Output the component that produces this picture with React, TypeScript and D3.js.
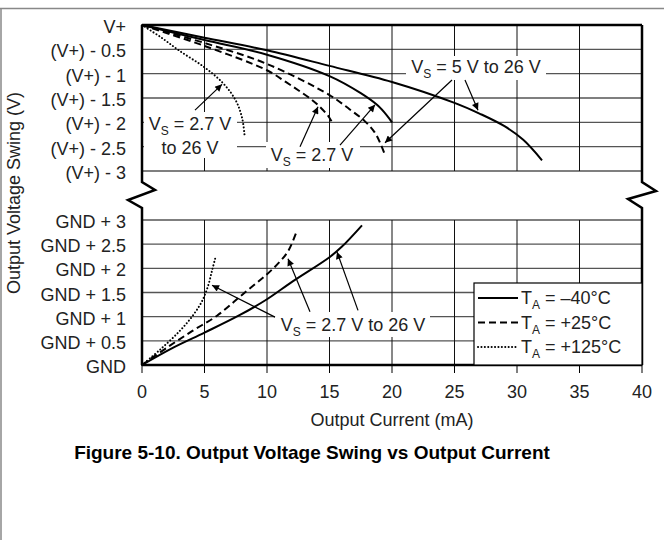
import React, { useEffect } from 'react';
import * as d3 from 'd3';

// x axis: output current (mA)
const currentTicks = [0, 5, 10, 15, 20, 25, 30, 35, 40];
// y: volts away from the rail, same for both panels
const swingTicks = [0, 0.5, 1, 1.5, 2, 2.5, 3];
const topTickLabels = ['V+', '(V+) - 0.5', '(V+) - 1', '(V+) - 1.5', '(V+) - 2', '(V+) - 2.5', '(V+) - 3'];
const bottomTickLabels = ['GND', 'GND + 0.5', 'GND + 1', 'GND + 1.5', 'GND + 2', 'GND + 2.5', 'GND + 3'];

// upper panel, swing below V+ (V) vs current (mA)
const highNeg40Wide = [[0, 0], [5, 0.26], [10, 0.52], [15, 0.84], [20, 1.17], [25, 1.6], [27, 1.82], [29, 2.08], [30.5, 2.36], [32, 2.78]];
const highNeg40Low = [[0, 0], [5, 0.31], [10, 0.61], [15, 1.05], [17.5, 1.4], [18.8, 1.64], [19.6, 1.86], [20, 2.0]];
const high25Wide = [[0, 0], [5, 0.37], [10, 0.8], [15, 1.44], [16.6, 1.73], [17.8, 1.97], [18.6, 2.2], [19.1, 2.45], [19.45, 2.68]];
const high25Low = [[0, 0], [5, 0.43], [10, 0.93], [11.5, 1.17], [12.5, 1.34], [13.6, 1.54], [14.3, 1.7], [14.9, 1.87], [15.2, 2.0]];
const high125 = [[0, 0], [1.5, 0.25], [3, 0.53], [5, 0.87], [6.5, 1.2], [7.5, 1.55], [8, 1.9], [8.2, 2.25]];

// lower panel, swing above GND (V) vs current (mA)
const lowNeg40 = [[0, 0], [2.5, 0.36], [5, 0.67], [7.8, 1.03], [10, 1.36], [12, 1.72], [15, 2.23], [16, 2.45], [17.6, 2.89]];
const low25 = [[0, 0], [2, 0.36], [4, 0.7], [6, 1.02], [8, 1.45], [10, 1.88], [11, 2.13], [11.7, 2.36], [12.4, 2.78]];
const low125 = [[0, 0], [1.5, 0.33], [3, 0.7], [4, 1.0], [4.8, 1.32], [5.3, 1.65], [5.6, 1.95], [5.85, 2.2]];

const legendLabels = ['–40°C', '+25°C', '+125°C'];

const FONT = '"Liberation Sans", Arial, Helvetica, sans-serif';
const TXT = '#222';

const x = d3.scaleLinear().domain([0, 40]).range([142, 642]);
const yTop = d3.scaleLinear().domain([0, 3]).range([25, 171]);
const yBot = d3.scaleLinear().domain([0, 3]).range([365, 220]);

const styles = {
  solid: { dash: undefined, cap: 'butt' },
  dashed: { dash: '7,4', cap: 'butt' },
  dotted: { dash: '0.1,3.3', cap: 'round' },
};

const series = [
  { d: highNeg40Wide, y: yTop, s: 'solid' },
  { d: highNeg40Low, y: yTop, s: 'solid' },
  { d: high25Wide, y: yTop, s: 'dashed' },
  { d: high25Low, y: yTop, s: 'dashed' },
  { d: high125, y: yTop, s: 'dotted' },
  { d: lowNeg40, y: yBot, s: 'solid' },
  { d: low25, y: yBot, s: 'dashed' },
  { d: low125, y: yBot, s: 'dotted' },
];

const arrows = [
  { y: yTop, from: [4.24, 1.75], to: [6.4, 1.22] },
  { y: yTop, from: [12.64, 2.5], to: [14.08, 1.68] },
  { y: yTop, from: [15.84, 2.47], to: [18.64, 1.64] },
  { y: yTop, from: [24.8, 1.13], to: [19.44, 2.42] },
  { y: yTop, from: [25.84, 1.13], to: [26.88, 1.75] },
  { y: yBot, from: [10.64, 0.99], to: [5.6, 1.65] },
  { y: yBot, from: [13.44, 1.1], to: [11.68, 2.2] },
  { y: yBot, from: [17.28, 1.13], to: [15.6, 2.34] },
];

const Vs = ({ x0, y0, rest, anchor = 'middle' }) => (
  <text x={x0} y={y0} textAnchor={anchor} fontSize={18} fill={TXT}>
    V<tspan fontSize={12} dy={5}>S</tspan>
    <tspan dy={-5}>{rest}</tspan>
  </text>
);

export default function App() {
  useEffect(() => {
    document.body.style.margin = '0';
  }, []);

  const mk = (y) =>
    d3.line().x((p) => x(p[0])).y((p) => y(p[1])).curve(d3.curveCatmullRom.alpha(0.5));

  const gridStroke = '#555';
  const zigL = `M${x(0)},${yTop(0)} V182 l13,8 l-27,10 l14,8 V${yBot(0)}`;
  const zigR = `M${x(40)},${yTop(0)} V182 l14,9 l-28,8 l14,9 V${yBot(0)}`;

  return (
    <svg width={664} height={540} style={{ display: 'block', background: '#fff' }} fontFamily={FONT}>
      <defs>
        <marker id="ah" viewBox="0 0 10 10" refX="10" refY="5" markerWidth="9" markerHeight="7"
          markerUnits="userSpaceOnUse" orient="auto">
          <path d="M0,0 L10,5 L0,10 z" fill="#000" />
        </marker>
      </defs>

      {/* page frame */}
      <line x1={0} x2={664} y1={8.5} y2={8.5} stroke="#888" strokeWidth={1.5} />
      <line x1={1} x2={1} y1={8} y2={540} stroke="#888" strokeWidth={1.5} />

      {/* grid */}
      {[yTop, yBot].map((y, k) => (
        <g key={k}>
          {swingTicks.filter((t) => t > 0).map((t) => (
            <line key={'h' + t} x1={x(0)} x2={x(40)} y1={y(t)} y2={y(t)} stroke={gridStroke} strokeWidth={1.4} />
          ))}
          {currentTicks.slice(1, -1).map((t) => (
            <line key={'v' + t} x1={x(t)} x2={x(t)} y1={y(k ? 3 : 0)} y2={y(k ? 0 : 3)} stroke="#111" strokeWidth={1} />
          ))}
        </g>
      ))}

      {/* axes frame with breaks */}
      <line x1={x(0)} x2={x(40)} y1={yTop(0)} y2={yTop(0)} stroke="#000" strokeWidth={2.5} />
      <line x1={x(0)} x2={x(40)} y1={yBot(0)} y2={yBot(0)} stroke="#000" strokeWidth={2.5} />
      <path d={zigL} fill="none" stroke="#000" strokeWidth={2.5} />
      <path d={zigR} fill="none" stroke="#000" strokeWidth={2.5} />
      {currentTicks.map((t) => (
        <line key={t} x1={x(t)} x2={x(t)} y1={yBot(0)} y2={yBot(0) + 8} stroke="#000" strokeWidth={1} />
      ))}

      {/* tick labels */}
      {swingTicks.map((t, i) => (
        <text key={'t' + t} x={126} y={yTop(t) + 8} textAnchor="end" fontSize={18} fill={TXT}>{topTickLabels[i]}</text>
      ))}
      {swingTicks.map((t, i) => (
        <text key={'b' + t} x={126} y={yBot(t) + 8} textAnchor="end" fontSize={18} fill={TXT}>{bottomTickLabels[i]}</text>
      ))}
      {currentTicks.map((t) => (
        <text key={t} x={x(t)} y={398} textAnchor="middle" fontSize={18} fill={TXT}>{t}</text>
      ))}
      <text x={(x(0) + x(40)) / 2} y={426} textAnchor="middle" fontSize={18} fill={TXT}>Output Current (mA)</text>
      <text transform={`translate(20,193) rotate(-90)`} textAnchor="middle" fontSize={18} fill={TXT}>Output Voltage Swing (V)</text>
      <text x={312} y={459} textAnchor="middle" fontSize={19} fontWeight="bold" fill="#000">
        Figure 5-10. Output Voltage Swing vs Output Current
      </text>

      {/* label backgrounds */}
      <rect x={144} y={112} width={93} height={46} fill="#fff" />
      <rect x={266} y={142} width={94} height={26} fill="#fff" />
      <rect x={406} y={56} width={140} height={24} fill="#fff" />
      <rect x={275} y={312} width={155} height={25} fill="#fff" />

      {/* curves */}
      {series.map((s, i) => (
        <path key={i} d={mk(s.y)(s.d)} fill="none" stroke="#000" strokeWidth={2}
          strokeDasharray={styles[s.s].dash} strokeLinecap={styles[s.s].cap} />
      ))}

      {/* annotation labels */}
      <Vs x0={190} y0={130} rest=" = 2.7 V" />
      <text x={190} y={154} textAnchor="middle" fontSize={18} fill={TXT}>to 26 V</text>
      <Vs x0={312} y0={161} rest=" = 2.7 V" />
      <Vs x0={476} y0={73} rest=" = 5 V to 26 V" />
      <Vs x0={353} y0={331} rest=" = 2.7 V to 26 V" />

      {arrows.map((a, i) => (
        <line key={i} x1={x(a.from[0])} y1={a.y(a.from[1])} x2={x(a.to[0])} y2={a.y(a.to[1])}
          stroke="#000" strokeWidth={1.2} markerEnd="url(#ah)" />
      ))}

      {/* legend */}
      <rect x={474} y={283} width={168} height={82} fill="#fff" stroke="#000" strokeWidth={1.2} />
      {legendLabels.map((lab, i) => {
        const st = styles[['solid', 'dashed', 'dotted'][i]];
        const ly = 298 + i * 24.5;
        return (
          <g key={lab}>
            <line x1={478} x2={518} y1={ly} y2={ly} stroke="#000" strokeWidth={2}
              strokeDasharray={st.dash} strokeLinecap={st.cap} />
            <text x={521} y={ly + 6} fontSize={18} fill={TXT}>
              T<tspan fontSize={12} dy={5}>A</tspan><tspan dy={-5}>{' = ' + lab}</tspan>
            </text>
          </g>
        );
      })}
    </svg>
  );
}
